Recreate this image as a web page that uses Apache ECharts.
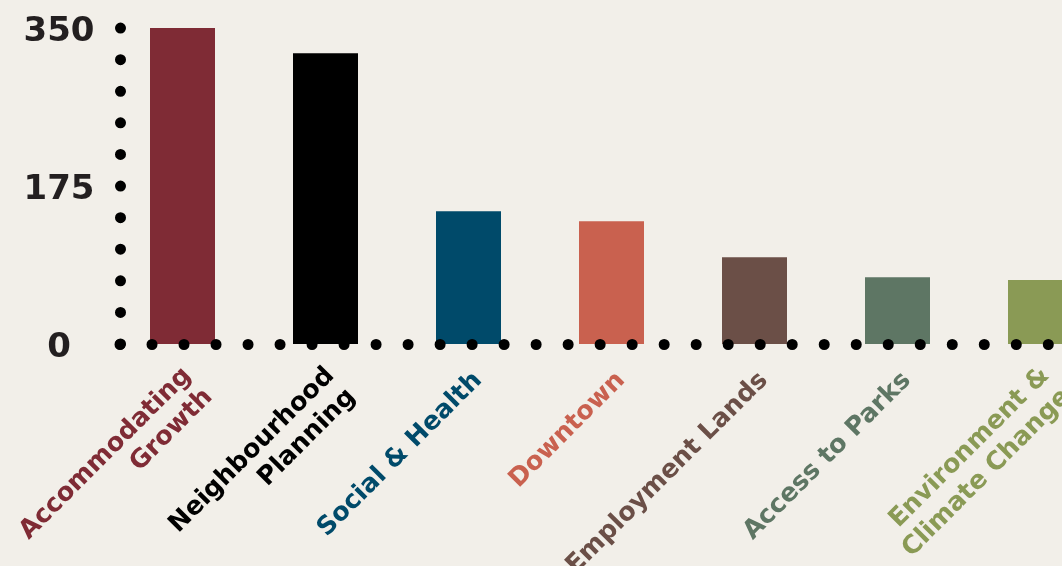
<!DOCTYPE html>
<html>
<head>
<meta charset="utf-8">
<script src="https://cdn.jsdelivr.net/npm/echarts@6/dist/echarts.min.js"></script>
<style>
html,body{margin:0;padding:0;background:#f2efe9;}
#c{width:1062px;height:566px;}
</style>
</head>
<body>
<div id="c"></div>
<script>
var categories = ["Accommodating\nGrowth", "Neighbourhood\nPlanning", "Social & Health", "Downtown", "Employment Lands", "Access to Parks", "Environment &\nClimate Change"];
var values = [350, 322, 147, 136, 96, 74, 71];
var colors = ["#7f2b35", "#000000", "#004a6a", "#c9614f", "#6b4f47", "#5e7664", "#8a9a55"];
var yTicks = [0, 175, 350];

var chart = echarts.init(document.getElementById('c'));
var font = "DejaVu Sans";
var rich = {
  g1: {fontSize: 4, lineHeight: 27},
  g2: {fontSize: 4, lineHeight: 44}
};
colors.forEach(function (c, i) {
  rich['t' + i] = {color: c, fontFamily: font, fontWeight: 'bold', fontSize: 25.5, lineHeight: 30};
});
chart.setOption({
  backgroundColor: '#f2efe9',
  animation: false,
  grid: [
    {left: 111, top: 28, height: 316, width: 1001, containLabel: false, outerBoundsMode: 'none'},
    {left: 120, top: 28, height: 316, width: 980, containLabel: false, outerBoundsMode: 'none'}
  ],
  xAxis: [
    {
      type: 'category', gridIndex: 0, data: categories,
      axisLine: {show: false}, axisTick: {show: false},
      axisLabel: {
        interval: 0, rotate: 45, margin: 23,
        fontFamily: font, fontWeight: 'bold', fontSize: 25.5, lineHeight: 30,
        align: 'right',
        color: function (v, i) { return colors[i]; },
        formatter: function (v, i) {
          var lines = v.split('\n');
          var gap = lines.length > 1 ? '{g2| }' : '{g1| }';
          return gap + '\n' + lines.map(function (l) { return '{t' + i + '|' + l + '}'; }).join('\n');
        },
        rich: rich
      }
    },
    {
      type: 'value', gridIndex: 1, min: 0, max: 1, z: 10,
      axisLine: {show: true, lineStyle: {color: '#000', width: 11, type: [0.01, 32], cap: 'round'}},
      axisTick: {show: false}, axisLabel: {show: false}, splitLine: {show: false}
    }
  ],
  yAxis: [
    {
      type: 'value', gridIndex: 0, min: 0, max: 350,
      axisLine: {show: false}, axisTick: {show: false}, axisLabel: {show: false}, splitLine: {show: false}
    },
    {
      type: 'value', gridIndex: 1, min: 0, max: 350, interval: 175, z: 10,
      axisLine: {show: true, lineStyle: {color: '#000', width: 11, type: [0.01, 31.58], cap: 'round'}},
      axisTick: {show: false}, splitLine: {show: false},
      axisLabel: {
        margin: 61, align: 'center',
        fontFamily: font, fontWeight: 'bold', fontSize: 34, color: '#231f20',
        formatter: function (v) { return yTicks.indexOf(v) >= 0 ? '{n|' + v + '}' : ''; },
        rich: {n: {fontFamily: font, fontWeight: 'bold', fontSize: 34, color: '#231f20', padding: [8, 0, 0, 0]}}
      }
    }
  ],
  series: [{
    type: 'bar', xAxisIndex: 0, yAxisIndex: 0,
    barWidth: 65,
    data: values.map(function (v, i) { return {value: v, itemStyle: {color: colors[i]}}; })
  }]
});
</script>
</body>
</html>
